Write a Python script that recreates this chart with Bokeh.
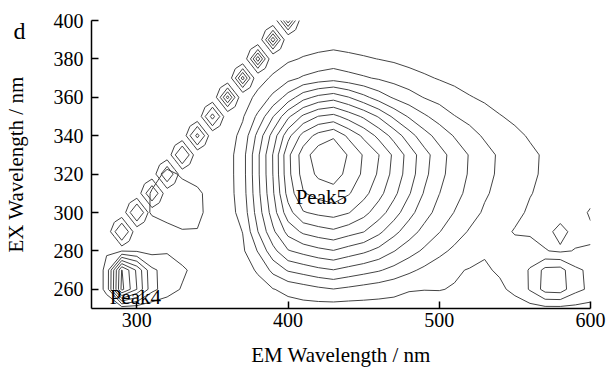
import numpy as np
from bokeh.plotting import figure
from bokeh.models import FixedTicker, Label, LinearAxis
from bokeh.embed import file_html
from bokeh.resources import INLINE

# ---------------- data ----------------
em_grid = [270, 280, 290, 300, 310, 320, 330, 340, 350, 360, 370, 380, 390, 400, 410, 420, 430,
           440, 450, 460, 470, 480, 490, 500, 510, 520, 530, 540, 550, 560, 570, 580, 590, 600]
ex_grid = [250, 260, 270, 280, 290, 300, 310, 320, 330, 340, 350, 360, 370, 380, 390, 400]

i_ex250 = [0, 0.2, 0.3, 0.3, 0.3, 0.25, 0.2, 0.2, 0.2, 0.2, 0.25, 0.3, 0.4, 0.6, 0.6, 0.55, 0.5,
           0.5, 0.55, 0.6, 0.68, 0.65, 0.6, 0.6, 0.55, 0.5, 0.45, 0.5, 0.6, 0.6, 0.7, 0.7, 0.7, 0.6]
i_ex260 = [0, 1.3, 7.3, 5.0, 2.3, 1.5, 0.9, 0.6, 0.4, 0.3, 0.4, 0.61, 0.96, 1.24, 1.51, 1.78, 1.97,
           1.78, 1.59, 1.41, 1.22, 1.05, 1.02, 1.03, 0.95, 0.9, 0.7, 0.85, 1.2, 2.1, 3.4, 3.5, 2.3, 1.8]
i_ex270 = [0, 1.3, 7.05, 4.8, 2.2, 1.6, 1.2, 0.6, 0.4, 0.4, 0.58, 1.12, 2.27, 3.11, 3.43, 3.75, 3.97,
           3.66, 3.38, 3.1, 2.69, 2.21, 1.8, 1.45, 1.1, 0.95, 0.9, 1.1, 1.35, 2.1, 3.3, 3.4, 2.2, 1.8]
i_ex280 = [0, 0.9, 0.95, 0.9, 0.7, 0.9, 0.4, 0.35, 0.4, 0.45, 0.84, 2.06, 3.67, 4.92, 5.34, 5.71, 5.95,
           5.56, 5.2, 4.7, 4.04, 3.43, 2.83, 2.26, 1.8, 1.44, 1.08, 1.05, 1.25, 1.3, 1.05, 0.85, 1.05, 1.1]
i_ex290 = [0, 0.2, 0.3, 0.4, 0.5, 0.7, 0.95, 0.95, 0.5, 0.5, 1.02, 2.98, 4.79, 6.34, 7.2, 7.55, 7.8,
           7.4, 7.03, 6.24, 5.31, 4.45, 3.7, 3.04, 2.44, 1.91, 1.55, 1.2, 0.95, 0.9, 0.7, 1.3, 0.7, 0.8]
i_ex300 = [0, 0.1, 0.2, 0.4, 1.1, 1.35, 1.35, 1.25, 0.6, 0.58, 1.37, 3.46, 5.5, 7.59, 8.92, 9.23, 9.4,
           9.06, 8.33, 7.47, 6.47, 5.36, 4.4, 3.64, 2.97, 2.38, 1.87, 1.52, 1.17, 0.9, 0.75, 0.6, 0.45, 1.15]
i_ex310 = [0, 0.1, 0.1, 0.3, 1.1, 1.4, 1.3, 1.2, 0.6, 0.6, 1.54, 3.7, 5.86, 8.38, 9.93, 10.36, 10.65,
           10.09, 9.34, 8.34, 7.26, 6.1, 4.92, 4.02, 3.35, 2.72, 2.12, 1.73, 1.38, 1.03, 0.85, 0.63, 0.47, 0.5]
i_ex320 = [0, 0, 0.1, 0.2, 0.6, 1.2, 0.9, 0.6, 0.5, 0.6, 1.6, 3.8, 6.02, 8.7, 10.4, 11.2, 11.4,
           10.74, 9.8, 8.86, 7.67, 6.52, 5.28, 4.3, 3.55, 2.9, 2.31, 1.83, 1.49, 1.14, 0.88, 0.66, 0.48, 0.4]
i_ex330 = [0, 0, 0, 0.1, 0.2, 0.4, 0.5, 0.4, 0.35, 0.6, 1.6, 3.8, 6.05, 8.75, 10.5, 11.6, 11.85,
           10.9, 9.9, 9.02, 7.8, 6.6, 5.4, 4.4, 3.6, 2.94, 2.35, 1.86, 1.52, 1.17, 0.89, 0.67, 0.48, 0.42]
i_ex340 = [0, 0, 0, 0, 0.1, 0.2, 0.3, 0.35, 0.4, 0.55, 1.29, 3.31, 5.42, 7.68, 9.38, 10.36, 10.85,
           9.79, 8.79, 7.71, 6.63, 5.44, 4.4, 3.61, 2.93, 2.36, 1.87, 1.53, 1.2, 0.91, 0.69, 0.49, 0.4, 0.35]
i_ex350 = [0, 0, 0, 0, 0, 0.1, 0.2, 0.3, 0.35, 0.45, 0.9, 2.21, 3.96, 5.8, 7.2, 8.04, 8.3,
           7.59, 6.83, 5.9, 4.79, 3.89, 3.16, 2.58, 2.04, 1.7, 1.37, 1.05, 0.82, 0.6, 0.45, 0.38, 0.33, 0.3]
i_ex360 = [0, 0, 0, 0, 0, 0, 0, 0.1, 0.2, 0.35, 0.61, 1.21, 2.24, 3.42, 4.62, 5.28, 5.6,
           5.03, 4.28, 3.53, 2.87, 2.4, 1.96, 1.66, 1.36, 1.06, 0.84, 0.63, 0.48, 0.4, 0.35, 0.3, 0.28, 0.25]
i_ex370 = [0, 0, 0, 0, 0, 0, 0, 0, 0.1, 0.3, 0.4, 0.68, 1.13, 1.7, 2.13, 2.41, 2.6,
           2.35, 2.12, 1.89, 1.64, 1.4, 1.15, 0.93, 0.74, 0.55, 0.45, 0.4, 0.35, 0.3, 0.28, 0.25, 0.22, 0.2]
i_ex380 = [0, 0, 0, 0, 0, 0, 0, 0, 0, 0.2, 0.3, 0.4, 0.55, 0.84, 1.08, 1.26, 1.4,
           1.25, 1.11, 0.98, 0.85, 0.67, 0.52, 0.45, 0.4, 0.35, 0.3, 0.28, 0.25, 0.22, 0.2, 0.2, 0.18, 0.15]
i_ex390 = [0, 0, 0, 0, 0, 0, 0, 0, 0, 0, 0, 0.2, 0.3, 0.35, 0.45, 0.5, 0.55,
           0.5, 0.45, 0.42, 0.4, 0.35, 0.3, 0.28, 0.25, 0.22, 0.2, 0.2, 0.2, 0.18, 0.16, 0.15, 0.15, 0.15]
i_ex400 = [0, 0, 0, 0, 0, 0, 0, 0, 0, 0, 0, 0, 0.15, 0.2, 0.25, 0.28, 0.3,
           0.28, 0.25, 0.22, 0.2, 0.18, 0.15, 0.12, 0.12, 0.1, 0.1, 0.1, 0.1, 0.1, 0.1, 0.1, 0.1, 0.1]

sc_grid = [280, 285, 290, 295, 300, 305, 310, 315, 320, 325, 330, 335, 340, 345,
           350, 355, 360, 365, 370, 375, 380, 385, 390, 395, 400, 405, 410]
scatter_center = [290, 300, 310, 320, 330, 340, 350, 360, 370, 380, 390, 400]
scatter_peak = [2.4, 2.4, 2.2, 2.2, 2.6, 3.3, 3.4, 4.4, 4.5, 4.7, 4.7, 4.7]
scatter_side = 1.95
scatter_corner = 0.95

contour_levels = [1, 2, 3, 4, 5, 6, 7, 8, 9, 10, 11]
em_ticks = [300, 400, 500, 600]
ex_ticks = [260, 280, 300, 320, 340, 360, 380, 400]

Z = np.array([i_ex250, i_ex260, i_ex270, i_ex280, i_ex290, i_ex300, i_ex310, i_ex320,
              i_ex330, i_ex340, i_ex350, i_ex360, i_ex370, i_ex380, i_ex390, i_ex400], dtype=float)

Zs = np.zeros((len(sc_grid), len(sc_grid)))
for c, h in zip(scatter_center, scatter_peak):
    k = sc_grid.index(c)
    Zs[k, k] = h
    Zs[k, k - 1] = Zs[k, k + 1] = scatter_side
    Zs[k - 1, k] = Zs[k + 1, k] = scatter_side
    Zs[k + 1, k - 1] = Zs[k - 1, k + 1] = scatter_corner

SERIF = "Liberation Serif"
p = figure(width=608, height=370, x_range=(270, 600), y_range=(250, 400),
           output_backend="svg", toolbar_location=None,
           x_axis_location=None, y_axis_location=None,
           min_border_left=91, min_border_right=18, min_border_top=20, min_border_bottom=62)
p.outline_line_color = None
p.grid.visible = False
p.background_fill_color = "white"
p.border_fill_color = "white"

line_col = "#444444"
p.contour(x=em_grid, y=ex_grid, z=Z, levels=contour_levels, line_color=line_col, line_width=1)
p.contour(x=sc_grid, y=sc_grid, z=Zs, levels=contour_levels, line_color=line_col, line_width=1)

common = dict(axis_line_width=1.5, axis_line_color="black",
              major_tick_in=7, major_tick_out=0, major_tick_line_width=1.5,
              major_tick_line_color="black", minor_tick_line_color=None,
              major_label_text_font=SERIF, major_label_text_font_size="20px",
              major_label_text_color="black",
              axis_label_text_font=SERIF, axis_label_text_font_size="21px",
              axis_label_text_font_style="normal", axis_label_text_color="black")

xax = LinearAxis(ticker=FixedTicker(ticks=em_ticks),
                 major_label_overrides={t: str(t) for t in em_ticks},
                 axis_label="EM Wavelength / nm", major_label_standoff=4,
                 axis_label_standoff=13, **common)
p.add_layout(xax, "below")

yax = LinearAxis(ticker=FixedTicker(ticks=ex_ticks),
                 major_label_overrides={t: str(t) for t in ex_ticks},
                 major_label_standoff=8, **common)
p.add_layout(yax, "left")

# outer left axis: panel letter "d" and the y title
outer = LinearAxis(ticker=FixedTicker(ticks=[394.5]), major_label_overrides={394.5: "d"},
                   axis_line_color=None, major_tick_line_color=None, minor_tick_line_color=None,
                   major_label_text_font=SERIF, major_label_text_font_size="24px",
                   major_label_text_color="black", major_label_standoff=19,
                   axis_label="EX Wavelength / nm", axis_label_text_font=SERIF,
                   axis_label_text_font_size="21px", axis_label_text_font_style="normal",
                   axis_label_text_color="black", axis_label_standoff=-17)
p.add_layout(outer, "left")

for txt, x, y in [("Peak5", 422, 308), ("Peak4", 299, 256)]:
    p.add_layout(Label(x=x, y=y, text=txt, text_font=SERIF, text_font_size="21px",
                       text_align="center", text_baseline="middle", text_color="black"))

open("out.html", "w").write(file_html(p, INLINE))
